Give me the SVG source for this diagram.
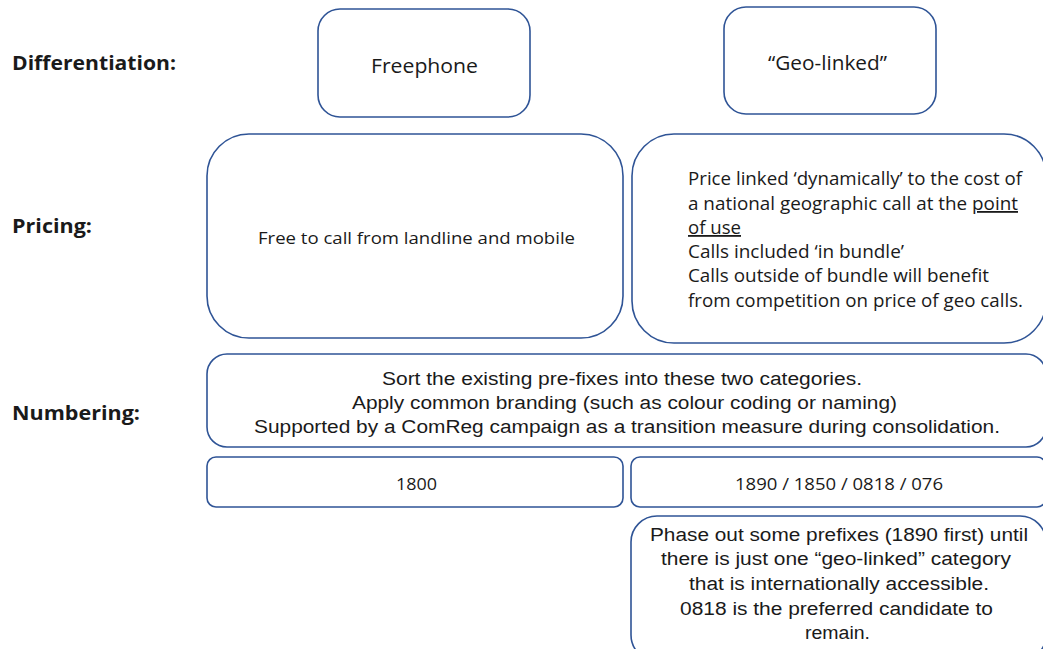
<svg xmlns="http://www.w3.org/2000/svg" width="1043" height="649" viewBox="0 0 1043 649">
<style>
.box{fill:#fff;stroke:#2f5496;stroke-width:1.6}
.lab{font-family:"Open Sans","Noto Sans",sans-serif;font-weight:bold;font-size:19px;fill:#1a1a1a}
.my{font-family:"Open Sans","Noto Sans",sans-serif;fill:#1a1a1a}
.ar{font-family:"Liberation Sans",Arial,sans-serif;fill:#1a1a1a}
</style>
<rect width="1043" height="649" fill="#fff"/>
<g id="labels">
<text class="lab" x="12" y="70" textLength="164" lengthAdjust="spacingAndGlyphs">Differentiation:</text>
<text class="lab" x="12" y="233" textLength="80" lengthAdjust="spacingAndGlyphs">Pricing:</text>
<text class="lab" x="12" y="420" textLength="128" lengthAdjust="spacingAndGlyphs">Numbering:</text>
</g>
<g id="freephone">
<rect class="box" x="318" y="9" width="212" height="108" rx="22"/>
<text class="my" x="371" y="73" font-size="20" textLength="107" lengthAdjust="spacingAndGlyphs">Freephone</text>
</g>
<g id="geolinked">
<rect class="box" x="724" y="7" width="212" height="107" rx="22"/>
<text class="my" x="768" y="70" font-size="20" textLength="119" lengthAdjust="spacingAndGlyphs">“Geo-linked”</text>
</g>
<g id="pricing-free">
<rect class="box" x="207" y="134" width="416" height="204" rx="42"/>
<text class="my" x="258" y="244" font-size="17" textLength="317" lengthAdjust="spacingAndGlyphs">Free to call from landline and mobile</text>
</g>
<g id="pricing-geo">
<rect class="box" x="632" y="134" width="414" height="209" rx="42"/>
<g class="my" font-size="18">
<text x="688" y="185" textLength="334" lengthAdjust="spacingAndGlyphs">Price linked ‘dynamically’ to the cost of</text>
<text x="688" y="210" textLength="330" lengthAdjust="spacingAndGlyphs">a national geographic call at the <tspan text-decoration="underline">point</tspan></text>
<text x="688" y="234" textLength="53" lengthAdjust="spacingAndGlyphs" text-decoration="underline">of use</text>
<text x="688" y="258" textLength="216" lengthAdjust="spacingAndGlyphs">Calls included ‘in bundle’</text>
<text x="688" y="282" textLength="301" lengthAdjust="spacingAndGlyphs">Calls outside of bundle will benefit</text>
<text x="688" y="307" textLength="335" lengthAdjust="spacingAndGlyphs">from competition on price of geo calls.</text>
</g>
</g>
<g id="numbering">
<rect class="box" x="207" y="354" width="839" height="93" rx="20"/>
<g class="ar" font-size="18">
<text x="382" y="385" textLength="480" lengthAdjust="spacingAndGlyphs">Sort the existing pre-fixes into these two categories.</text>
<text x="352" y="409" textLength="545" lengthAdjust="spacingAndGlyphs">Apply common branding (such as colour coding or naming)</text>
<text x="254" y="433" textLength="746" lengthAdjust="spacingAndGlyphs">Supported by a ComReg campaign as a transition measure during consolidation.</text>
</g>
</g>
<g id="n1800">
<rect class="box" x="207" y="457" width="416" height="50" rx="9"/>
<text class="my" x="396" y="490" font-size="16" textLength="41" lengthAdjust="spacingAndGlyphs">1800</text>
</g>
<g id="n1890">
<rect class="box" x="631" y="457" width="415" height="50" rx="9"/>
<text class="my" x="735" y="490" font-size="16" textLength="208" lengthAdjust="spacingAndGlyphs">1890 / 1850 / 0818 / 076</text>
</g>
<g id="phaseout">
<rect class="box" x="631" y="516" width="415" height="145" rx="26"/>
<g class="ar" font-size="18">
<text x="650" y="541" textLength="378" lengthAdjust="spacingAndGlyphs">Phase out some prefixes (1890 first) until</text>
<text x="661" y="565" textLength="350" lengthAdjust="spacingAndGlyphs">there is just one “geo-linked” category</text>
<text x="689" y="590" textLength="300" lengthAdjust="spacingAndGlyphs">that is internationally accessible.</text>
<text x="680" y="615" textLength="313" lengthAdjust="spacingAndGlyphs">0818 is the preferred candidate to</text>
<text x="805" y="639" textLength="65" lengthAdjust="spacingAndGlyphs">remain.</text>
</g>
</g>
<g id="connectors"></g>
</svg>
